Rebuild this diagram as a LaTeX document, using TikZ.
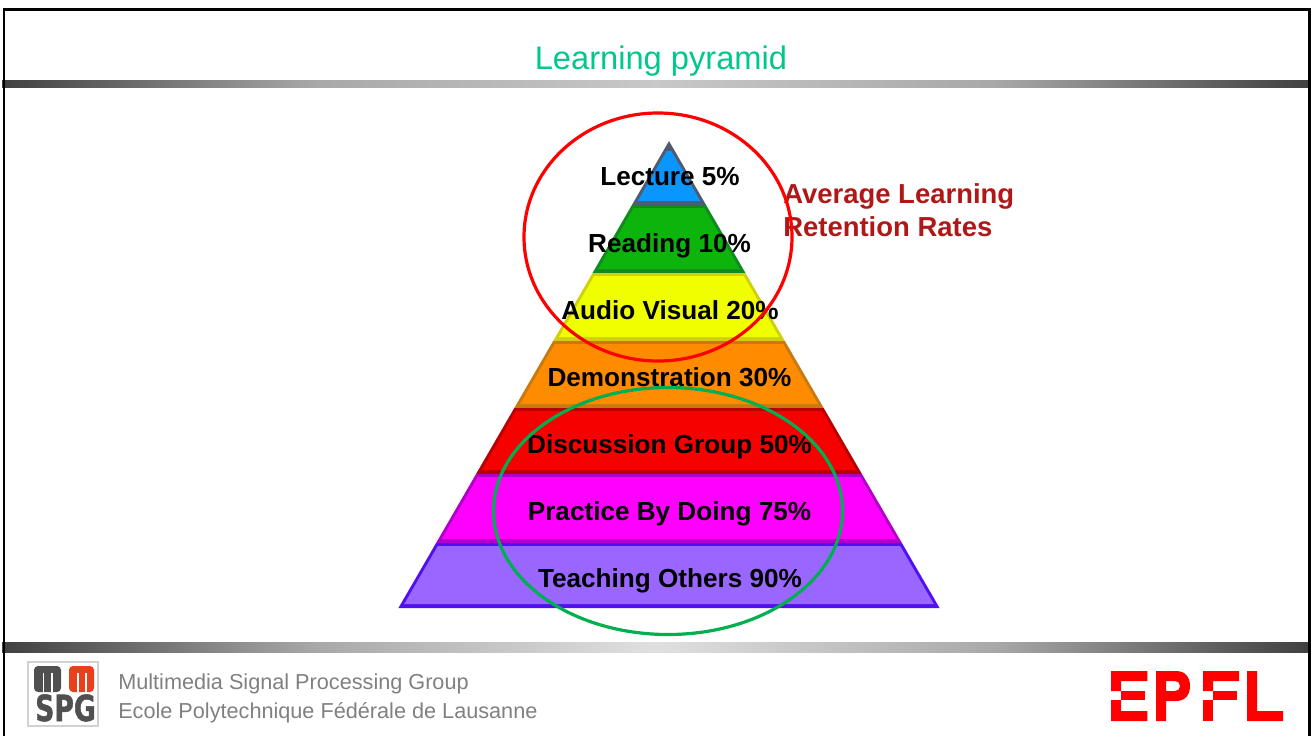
\documentclass[tikz,border=0pt]{standalone}
\usepackage{fontspec}
\setmainfont{Liberation Sans}
\newfontfamily\logofont[BoldFeatures={FakeBold=1.5}]{DejaVu Sans}
\usetikzlibrary{shapes.geometric}
\definecolor{titlegreen}{HTML}{00C78C}
\definecolor{footgray}{HTML}{808080}
\definecolor{ratered}{HTML}{B01818}
\definecolor{logogray}{HTML}{505050}
\definecolor{logored}{HTML}{E8401C}
\definecolor{circlegreen}{HTML}{00B050}
\definecolor{bardark}{HTML}{404040}
\definecolor{headmid}{HTML}{A8A8A8}
\definecolor{headlight}{HTML}{C8C8C8}
\definecolor{footmid}{HTML}{A8A8A8}
\definecolor{footlight}{HTML}{E0E0E0}
\pgfdeclarehorizontalshading{headbar}{100bp}{color(0bp)=(bardark); color(25bp)=(bardark); color(37bp)=(headmid); color(50bp)=(headlight); color(63bp)=(headmid); color(75bp)=(bardark); color(100bp)=(bardark)}
\pgfdeclarehorizontalshading{footbar}{100bp}{color(0bp)=(bardark); color(25bp)=(bardark); color(37bp)=(footmid); color(50bp)=(footlight); color(63bp)=(footmid); color(75bp)=(bardark); color(100bp)=(bardark)}
\tikzset{
  band/.style={font=\fontsize{19.6}{23}\selectfont\bfseries, text=black, inner sep=0pt, anchor=base},
  foot/.style={font=\fontsize{16.25}{19}\selectfont, text=footgray, anchor=west, inner sep=0pt},
  slit/.style={fill=white, draw=none}
}
\begin{document}
\begin{tikzpicture}[x=0.75pt, y=-0.75pt]
\useasboundingbox (0,0) rectangle (1311,736);

% bars and frame
\path[shading=headbar] (2,80) rectangle (1309,87);
\path[shading=footbar] (2,642) rectangle (1309,652);
\draw[line width=2.2pt] (4,736) -- (4,9.5) -- (1309.5,9.5) -- (1309.5,736);

\node[font=\fontsize{24.5}{29}\selectfont, text=titlegreen] (title) at (661,61) {Learning pyramid};

% pyramid, outer shape in the edge colour and inner shape on top
\foreach \ytop/\ybot/\cfill/\cedge in {
  141/205/0A96FF/505A70,
  205/273/0CB40C/118A20,
  273/341/F0FF00/D0D010,
  341/408/FF8C00/C87A10,
  408/474/F70000/B80000,
  474/543/FF00FF/B000C8,
  543/608/9966FF/5010F0}
{
  \definecolor{cf}{HTML}{\cfill}
  \definecolor{ce}{HTML}{\cedge}
  \pgfmathsetmacro{\wtop}{(\ytop-141)*0.5794}
  \pgfmathsetmacro{\wbot}{(\ybot-141)*0.5794}
  \fill[ce] (669-\wtop,\ytop) -- (669+\wtop,\ytop) -- (669+\wbot,\ybot) -- (669-\wbot,\ybot) -- cycle;
  \pgfmathsetmacro{\itop}{\ytop==141 ? 151 : \ytop+3}
  \pgfmathsetmacro{\ibot}{\ybot-4}
  \pgfmathsetmacro{\witop}{(\itop-141)*0.5794-3.5}
  \pgfmathsetmacro{\wibot}{(\ibot-141)*0.5794-3.5}
  \fill[cf] (669-\witop,\itop) -- (669+\witop,\itop) -- (669+\wibot,\ibot) -- (669-\wibot,\ibot) -- cycle;
}

\node[band] (lecture) at (670,185) {Lecture 5\%};
\node[band] (reading) at (669.5,252) {Reading 10\%};
\node[band] (audio) at (670,319) {Audio Visual 20\%};
\node[band] (demo) at (669.5,386) {Demonstration 30\%};
\node[band] (discussion) at (669.5,453) {Discussion Group 50\%};
\node[band] (practice) at (669.5,520) {Practice By Doing 75\%};
\node[band] (teaching) at (670,587) {Teaching Others 90\%};

\node[anchor=west, align=left, inner sep=0pt, text=ratered, font=\fontsize{20.6}{24.75}\selectfont\bfseries] (rates) at (783,210.5) {Average Learning\\Retention Rates};

\node[ellipse, draw=red, line width=2.4pt, minimum width=201pt, minimum height=186pt, inner sep=0pt] (top) at (658,237) {};
\node[ellipse, draw=circlegreen, line width=2.4pt, minimum width=261.75pt, minimum height=185.25pt, inner sep=0pt] (bottom) at (668,511) {};

% footer
\node[foot] (group) at (118,683.5) {Multimedia Signal Processing Group};
\node[foot] (school) at (118,712.5) {Ecole Polytechnique Fédérale de Lausanne};

% mmspg logo
\draw[black!18, line width=0.8pt, fill=white] (28,662) rectangle (98,726);
\fill[logogray, rounded corners=3pt] (34,692) -- (34,666) -- (61,666) -- (61,692) -- cycle;
\fill[logored, rounded corners=3pt] (69,692) -- (69,666) -- (94,666) -- (94,692) -- cycle;
\fill[slit] (42.5,673) rectangle (44,692);
\fill[slit] (51,673) rectangle (52.5,692);
\fill[slit] (77,673) rectangle (78.5,692);
\fill[slit] (85,673) rectangle (86.5,692);
\node[font=\fontsize{27}{27}\logofont\bfseries, text=logogray, inner sep=0pt, anchor=base] (spg) at (65.5,721) {\scalebox{0.74}[1]{SPG}};

% epfl logo
\fill[red] (1111,671) -- (1147.3,671) -- (1147.3,681) -- (1121,681) -- (1121,691) -- (1111,691) -- cycle;
\fill[red] (1121,691) rectangle (1145,700);
\fill[red] (1111,700) -- (1121,700) -- (1121,711) -- (1147.3,711) -- (1147.3,721) -- (1111,721) -- cycle;
\fill[red, even odd rule] (1156,721) -- (1156,671) -- (1176,671) .. controls (1186,671) and (1190,678) .. (1190,686) .. controls (1190,694) and (1186,701) .. (1176,701) -- (1166,701) -- (1166,721) -- cycle
  (1166,681) -- (1175,681) .. controls (1178,681) and (1180,683) .. (1180,686) .. controls (1180,689) and (1178,691) .. (1175,691) -- (1166,691) -- cycle;
\fill[red] (1203,671) -- (1239,671) -- (1239,681) -- (1213,681) -- (1213,691) -- (1203,691) -- cycle;
\fill[red] (1213,691) rectangle (1237,700);
\fill[red] (1203,700) rectangle (1213,721);
\fill[red] (1247,671) -- (1257,671) -- (1257,711) -- (1283,711) -- (1283,721) -- (1247,721) -- cycle;
\end{tikzpicture}
\end{document}
